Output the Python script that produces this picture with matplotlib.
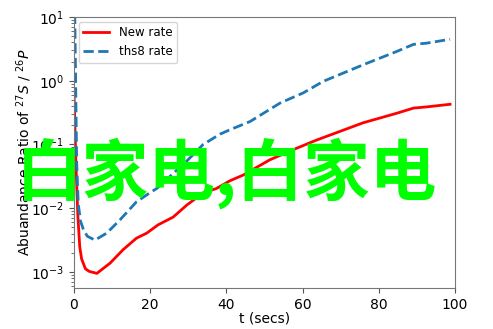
import matplotlib
matplotlib.use("Agg")
import matplotlib.pyplot as plt

# Abundance ratio of 27S / 26P versus time for two reaction-rate sets
t_new = [0, 0.5, 1, 1.5, 2, 3, 4, 6, 9.5, 12.9, 16.4, 19.1, 22.1, 26, 29.6,
         33.9, 37.4, 40.9, 44.4, 51.4, 58.4, 63.7, 75.9, 84.7, 89.1, 92.6, 98.7]
ratio_new = [0.65, 0.05, 0.0079, 0.0025, 0.0016, 0.00112, 0.00102, 0.00095,
             0.00138, 0.00224, 0.00339, 0.00407, 0.0055, 0.00724, 0.0112,
             0.0174, 0.0204, 0.0269, 0.0331, 0.0575, 0.0871, 0.1175, 0.219,
             0.309, 0.372, 0.389, 0.427]

t_ths8 = [0, 0.7, 1.1, 1.7, 2.5, 3.5, 5.5, 8.6, 12.1, 16.4, 19.1, 21.7, 25.2,
          29.6, 33.9, 38.3, 40.9, 46.2, 54.1, 60.2, 65.4, 75.9, 84.7, 89.1,
          92.6, 98.7]
ratio_ths8 = [100, 0.0525, 0.012, 0.0063, 0.00457, 0.00363, 0.00316, 0.00407,
              0.0066, 0.0126, 0.0162, 0.0204, 0.0316, 0.055, 0.1, 0.145, 0.17,
              0.229, 0.447, 0.646, 0.977, 1.78, 2.88, 3.72, 3.89, 4.47]

series_labels = ["New rate", "ths8 rate"]
x_label = "t (secs)"
y_label = "Abuandance Ratio of $^{27}S$ / $^{26}P$"
overlay_text = "白家电,白家电"

fig = plt.figure(figsize=(4.93, 3.29), dpi=100)
ax = fig.add_axes([74 / 493, 1 - 288 / 329, (455 - 74) / 493, (288 - 17) / 329])

ax.plot(t_new, ratio_new, color="#ff0000", lw=2, label=series_labels[0])
ax.plot(t_ths8, ratio_ths8, color="#1f77b4", lw=2, ls="--",
        label=series_labels[1])

ax.set_yscale("log")
ax.set_xlim(0, 100)
ax.set_ylim(5.6e-4, 10)
ax.set_xticks([0, 20, 40, 60, 80, 100])
ax.set_xlabel(x_label, fontsize=10, labelpad=0)
ax.set_ylabel(y_label, fontsize=10, labelpad=-2)
ax.tick_params(labelsize=10, colors="#555555", labelcolor="black")
ax.tick_params(which="minor", colors="#555555")

for side, sp in ax.spines.items():
    sp.set_color("#777777")

ax.legend(loc="upper left", fontsize=8.5, handlelength=2.2,
          borderaxespad=0.4, framealpha=0.8)

fig.text(227 / 493, 1 - 173 / 329, overlay_text, color="#00ff00",
         fontsize=48, fontweight="bold", ha="center", va="center",
         family=["Noto Sans CJK SC", "DejaVu Sans"], zorder=10)

fig.savefig("out.png", dpi=100)
